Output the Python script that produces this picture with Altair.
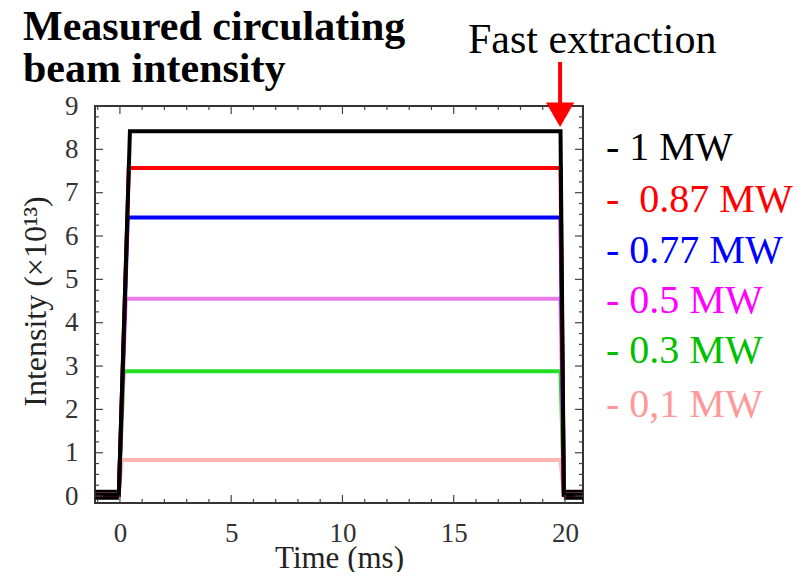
import altair as alt
import pandas as pd

# ---- data ----
series = ["0,1 MW", "0.3 MW", "0.5 MW", "0.77 MW", "0.87 MW", "1 MW"]
levels = [0.83, 2.88, 4.55, 6.43, 7.57, 8.42]
rise_end = [0.08, 0.17, 0.26, 0.35, 0.40, 0.45]
line_colors = ["#ffb3b3", "#22dd22", "#e87de8", "#0000ff", "#ff0000", "#000000"]
base_level = 0.03
t_start, t_rise0, t_fall0, t_fall1, t_end = -1.1, -0.05, 19.8, 19.95, 20.8
extraction_time = 19.78

legend_labels = ["- 1 MW", "-\u00a0 0.87 MW", "- 0.77 MW", "- 0.5 MW", "- 0.3 MW", "- 0,1 MW"]
legend_colors = ["#000000", "#ff0000", "#0000ff", "#ff00ff", "#00c000", "#ff9999"]

x_major = [0, 5, 10, 15, 20]
x_minor = [-1, 1, 2, 3, 4, 6, 7, 8, 9, 11, 12, 13, 14, 16, 17, 18, 19]
y_major = [0, 1, 2, 3, 4, 5, 6, 7, 8, 9]
y_minor = [i + f for i in range(9) for f in (0.25, 0.5, 0.75)]

W, H = 488, 397
FONT = "Liberation Serif"

xscale = alt.Scale(domain=[-1.12, 20.81], nice=False, zero=False)
yscale = alt.Scale(domain=[-0.16, 9], nice=False, zero=False)

xaxis = alt.Axis(values=x_major, grid=False, domain=False, ticks=False, tickSize=0,
                 labelFont=FONT, labelFontSize=27, labelColor="#333", labelPadding=17,
                 title="Time (ms)", titleFont=FONT, titleFontSize=31, titleFontWeight="normal",
                 titleColor="#222", titleY=64, titleBaseline="alphabetic")
yaxis = alt.Axis(values=y_major, grid=False, domain=False, ticks=False, tickSize=0,
                 labelFont=FONT, labelFontSize=27, labelColor="#333", labelPadding=17,
                 title="Intensity (×10¹³)", titleFont=FONT, titleFontSize=32,
                 titleFontWeight="normal", titleColor="#222", titleAngle=-90,
                 titleX=-60, titleY=195, titleAlign="center", titleBaseline="middle")


def X(field="t"):
    return alt.X(f"{field}:Q", scale=xscale, axis=xaxis)


def Y(field="v"):
    return alt.Y(f"{field}:Q", scale=yscale, axis=yaxis)


layers = []

# baseline band (before injection and after extraction)
base_df = pd.DataFrame({
    "t": [t_start, t_rise0, t_fall1, t_end],
    "v": [base_level] * 4,
    "seg": ["a", "a", "b", "b"],
})
layers.append(
    alt.Chart(base_df).mark_line(color="#000000", strokeWidth=10).encode(
        x=X(), y=Y(), detail="seg:N",
    )
)

for name, lev, re, col in zip(series, levels, rise_end, line_colors):
    df = pd.DataFrame({
        "t": [t_start, t_rise0, re, t_fall0, t_fall1, t_end],
        "v": [base_level, base_level, lev, lev, base_level, base_level],
        "i": list(range(6)),
    })
    layers.append(
        alt.Chart(df).mark_line(color=col, strokeWidth=4, strokeJoin="miter").encode(
            x=X(), y=Y(), order="i:Q",
        )
    )

# inward ticks on all four sides
tick_col = "#444"
xM = pd.DataFrame({"t": x_major})
xm = pd.DataFrame({"t": x_minor})
yM = pd.DataFrame({"v": y_major})
ym = pd.DataFrame({"v": y_minor})
for d, ln in ((xM, 8), (xm, 4)):
    layers.append(alt.Chart(d).mark_rule(color=tick_col, strokeWidth=1.2).encode(
        x=X(), y=alt.value(H), y2=alt.value(H - ln)))
    layers.append(alt.Chart(d).mark_rule(color=tick_col, strokeWidth=1.2).encode(
        x=X(), y=alt.value(0), y2=alt.value(ln)))
for d, ln in ((yM, 8), (ym, 4)):
    layers.append(alt.Chart(d).mark_rule(color=tick_col, strokeWidth=1.2).encode(
        y=Y(), x=alt.value(0), x2=alt.value(ln)))
    layers.append(alt.Chart(d).mark_rule(color=tick_col, strokeWidth=1.2).encode(
        y=Y(), x=alt.value(W), x2=alt.value(W - ln)))

# fast extraction arrow
arr = pd.DataFrame({"t": [extraction_time]})
layers.append(alt.Chart(arr).mark_rule(color="#ff0000", strokeWidth=4).encode(
    x=X(), y=alt.value(-44), y2=alt.value(-2)))
layers.append(alt.Chart(arr).mark_point(shape="triangle-down", filled=True, size=800,
                                        color="#ff0000", opacity=1).encode(
    x=X(), y=alt.value(8.75)))

one = pd.DataFrame({"a": [0]})
# titles / annotations
layers.append(alt.Chart(one).mark_text(font=FONT, fontSize=42, fontWeight="bold", align="left",
                                       baseline="alphabetic", color="#000").encode(
    x=alt.value(-72), y=alt.value(-66), text=alt.value("Measured circulating")))
layers.append(alt.Chart(one).mark_text(font=FONT, fontSize=42, fontWeight="bold", align="left",
                                       baseline="alphabetic", color="#000").encode(
    x=alt.value(-72), y=alt.value(-24), text=alt.value("beam intensity")))
layers.append(alt.Chart(one).mark_text(font=FONT, fontSize=42, align="left",
                                       baseline="alphabetic", color="#000").encode(
    x=alt.value(373), y=alt.value(-53), text=alt.value("Fast extraction")))

# legend text
legend_y = [54, 106, 157, 207, 257, 311]
for lab, col, yy in zip(legend_labels, legend_colors, legend_y):
    layers.append(alt.Chart(one).mark_text(font=FONT, fontSize=40, align="left",
                                           baseline="alphabetic", color=col).encode(
        x=alt.value(511), y=alt.value(yy), text=alt.value(lab)))

chart = alt.layer(*layers).properties(
    width=W, height=H,
    autosize=alt.AutoSizeParams(type="none"),
    padding={"left": 87, "top": 98, "right": 213, "bottom": 69},
    background="white",
).configure_view(stroke="#333", strokeWidth=2)

chart.save("out.html", embed_options={"renderer": "svg", "actions": False})
